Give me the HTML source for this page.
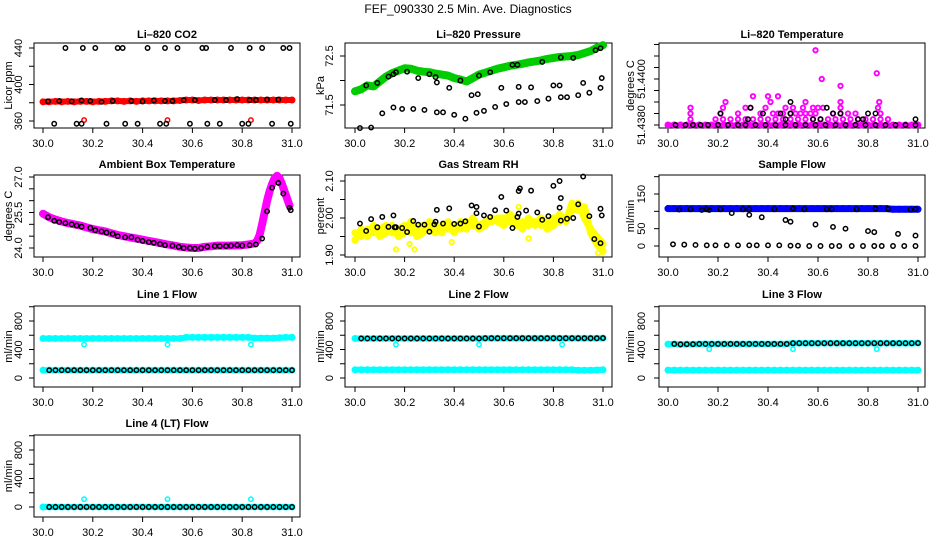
<!DOCTYPE html>
<html><head><meta charset="utf-8"><title>FEF_090330 Diagnostics</title>
<style>
html,body{margin:0;padding:0;background:#fff;}
svg{display:block;font-family:"Liberation Sans",sans-serif;}
</style></head>
<body>
<svg id="chart" width="936" height="540" viewBox="0 0 936 540" xmlns="http://www.w3.org/2000/svg">
<rect x="0" y="0" width="936" height="540" fill="#fff"/>
<text x="468" y="13" font-size="12" text-anchor="middle">FEF_090330  2.5 Min. Ave. Diagnostics</text>
</svg>
<script>
// ---------- shared time grid ----------
const T = [30.000,30.025,30.050,30.075,30.100,30.125,30.150,30.175,30.200,30.225,30.250,30.275,30.300,30.325,30.350,30.375,30.400,30.425,30.450,30.475,30.500,30.525,30.550,30.575,30.600,30.625,30.650,30.675,30.700,30.725,30.750,30.775,30.800,30.825,30.850,30.875,30.900,30.925,30.950,30.975,31.000];
const xTicks = [30.0,30.2,30.4,30.6,30.8,31.0];
const xTickLabels = ["30.0","30.2","30.4","30.6","30.8","31.0"];

// ---------- CO2 ----------
const co2Red = [381,381,381.5,381,381.5,381,381.5,381.5,381,381.5,381.5,382,382,381.5,382,381.5,382,382,382,382,382,382,382.5,383,383,382.5,383,383,383,383,383,383,383,383,383,383,383,383,383,383,383];
const co2RedOutX = [30.165,30.5,30.835];
const co2RedOutY = [361,361,361];
const co2TopX = [30.09,30.16,30.21,30.30,30.32,30.42,30.49,30.54,30.64,30.655,30.755,30.83,30.88,30.965,30.99];
const co2TopY = [440,440,440,440,440,440,440,440,440,440,440,440,440,440,440];
const co2BotX = [30.045,30.135,30.155,30.255,30.33,30.38,30.47,30.495,30.59,30.66,30.71,30.80,30.825,30.92,30.995];
const co2BotY = [357,357,357,357,357,357,357,357,357,357,357,357,357,357,357];
const co2MidX = [30.02,30.065,30.115,30.155,30.19,30.235,30.28,30.355,30.40,30.445,30.49,30.52,30.565,30.61,30.69,30.735,30.78,30.83,30.855,30.90,30.945];
const co2MidY = [381.5,382,381.5,382.5,382,381,382,382,381.5,382.5,382,382,383,383,383,383,384,383,383,383.5,383.5];

// ---------- Pressure ----------
const presGreen = [71.78,71.82,71.9,71.88,71.98,72.08,72.15,72.2,72.25,72.24,72.2,72.18,72.17,72.14,72.12,72.1,72.05,72.02,71.98,72.05,72.12,72.16,72.2,72.24,72.27,72.3,72.32,72.34,72.37,72.39,72.41,72.44,72.46,72.48,72.49,72.5,72.52,72.56,72.6,72.67,72.72];
const presBlkX = [30.045,30.09,30.135,30.155,30.165,30.21,30.255,30.30,30.325,30.425,30.50,30.545,30.635,30.655,30.755,30.83,30.88,30.97,30.99,
  30.02,30.065,30.11,30.155,30.19,30.235,30.28,30.33,30.355,30.40,30.445,30.49,30.52,30.565,30.61,30.66,30.685,30.735,30.78,30.83,30.855,30.90,30.945,30.99,
  30.33,30.38,30.47,30.495,30.59,30.66,30.71,30.80,30.825,30.92,30.995];
const presBlkY = [71.9,71.95,72.08,72.13,72.17,72.18,72.05,72.13,72.07,72.0,72.1,72.17,72.32,72.32,72.38,72.47,72.46,72.62,72.66,
  71.03,71.04,71.33,71.45,71.42,71.42,71.4,71.35,71.35,71.3,71.22,71.34,71.38,71.46,71.52,71.56,71.56,71.58,71.63,71.66,71.66,71.7,71.75,71.85,
  71.96,71.85,71.7,71.72,71.85,71.87,71.86,71.9,71.9,71.95,72.05];

// ---------- Li-820 Temperature (degrees C) ----------
const tempTicks = [51.4380,51.4385,51.4390,51.4395,51.4400,51.4405,51.4410,51.4415];
const tempTickLabels = ["51.4380","","","","51.4400","","",""];
const tempMagX = [30.09,30.19,30.22,30.25,30.28,30.31,30.34,30.37,30.40,30.43,30.46,30.49,30.52,30.55,30.58,30.61,30.64,30.67,30.70,30.73,30.76,30.79,30.82,30.85,30.88,
  30.09,30.21,30.28,30.37,30.42,30.44,30.46,30.49,30.51,30.53,30.55,30.57,30.59,30.66,30.69,30.72,30.75,30.85,
  30.09,30.22,30.31,30.33,30.39,30.47,30.50,30.54,30.58,30.60,30.62,30.69,30.84,
  30.23,30.41,30.55,30.69,30.845,30.34,30.40,30.44,30.615,30.835,30.69,30.59];
const tempMagY = [51.43825,51.43825,51.43825,51.43825,51.43825,51.43825,51.43825,51.43825,51.43825,51.43825,51.43825,51.43825,51.43825,51.43825,51.43825,51.43825,51.43825,51.43825,51.43825,51.43825,51.43825,51.43825,51.43825,51.43825,51.43825,
  51.4385,51.4385,51.4385,51.4385,51.4385,51.4385,51.4385,51.4385,51.4385,51.4385,51.4385,51.4385,51.4385,51.4385,51.4385,51.4385,51.4385,51.4385,
  51.43875,51.43875,51.43875,51.43875,51.43875,51.43875,51.43875,51.43875,51.43875,51.43875,51.43875,51.43875,51.43875,
  51.4390,51.4390,51.4390,51.4390,51.4390,51.43925,51.43925,51.43925,51.4400,51.44025,51.4397,51.44125];
const tempBlkX = [30.03,30.07,30.10,30.13,30.16,30.20,30.24,30.28,30.31,30.35,30.39,30.43,30.47,30.51,30.55,30.59,30.63,30.67,30.71,30.75,30.79,30.83,30.87,30.91,30.95,30.99,
  30.32,30.47,30.58,30.61,30.76,30.78,30.99,30.21,30.38,30.45,30.49,30.66,30.69,30.80,30.83,30.33,30.635,30.49];
const tempBlkY = [51.438,51.438,51.438,51.438,51.438,51.438,51.438,51.438,51.438,51.438,51.438,51.438,51.438,51.438,51.438,51.438,51.438,51.438,51.438,51.438,51.438,51.438,51.438,51.438,51.438,51.438,
  51.43825,51.43825,51.43825,51.43825,51.43825,51.43825,51.43825,51.4385,51.4385,51.4385,51.4385,51.4385,51.4385,51.4385,51.4385,51.43875,51.43875,51.4390];

// ---------- Ambient Box Temperature ----------
const ambX = [30.0,30.025,30.05,30.075,30.1,30.125,30.15,30.175,30.2,30.225,30.25,30.275,30.3,30.325,30.35,30.375,30.4,30.425,30.45,30.475,30.5,30.525,30.55,30.575,30.6,30.625,30.65,30.675,30.7,30.725,30.75,30.775,30.8,30.825,30.85,30.86,30.87,30.88,30.89,30.9,30.91,30.92,30.93,30.94,30.95,30.96,30.97,30.98,30.99];
const ambY = [25.45,25.3,25.2,25.12,25.05,25.0,24.95,24.87,24.8,24.75,24.7,24.62,24.55,24.5,24.45,24.4,24.35,24.3,24.25,24.2,24.15,24.1,24.05,24.02,24.0,24.0,24.05,24.07,24.1,24.1,24.1,24.11,24.12,24.15,24.2,24.3,24.55,25.0,25.5,26.0,26.4,26.7,26.95,27.05,26.95,26.7,26.4,26.1,25.8];
const ambBlkX = [30.02,30.045,30.065,30.09,30.115,30.135,30.155,30.19,30.21,30.235,30.255,30.28,30.30,30.33,30.355,30.38,30.40,30.425,30.445,30.47,30.49,30.52,30.545,30.565,30.59,30.61,30.635,30.66,30.69,30.71,30.735,30.755,30.78,30.80,30.83,30.855,30.88,30.90,30.92,30.945,30.965,30.99,30.995];
const ambBlkY = [25.3,25.15,25.1,25.05,25.0,24.95,24.9,24.85,24.75,24.7,24.65,24.6,24.5,24.45,24.45,24.35,24.3,24.25,24.22,24.17,24.12,24.1,24.05,24.0,24.0,23.97,24.0,24.05,24.08,24.08,24.08,24.1,24.12,24.1,24.12,24.15,24.4,25.55,26.55,26.75,26.3,25.7,25.6];

// ---------- Gas Stream RH ----------
const rhY1 = [1.96,1.95,1.97,1.96,1.97,1.98,1.96,1.97,1.98,1.96,1.97,1.98,1.97,1.96,1.98,1.97,1.98,1.97,1.99,1.98,1.98,1.99,1.99,2.0,2.0,1.99,1.98,1.99,1.98,1.99,1.98,1.99,2.0,1.99,2.0,2.02,2.04,2.0,1.97,1.95,1.93];
const rhY2 = [1.94,1.97,1.95,1.98,1.95,1.96,1.98,1.95,1.96,1.99,1.95,1.96,1.99,1.98,1.96,1.99,1.96,1.99,1.97,2.0,1.97,1.98,2.0,1.99,1.98,2.01,1.99,1.97,2.0,1.98,2.0,1.97,1.98,2.01,1.99,2.04,2.02,2.03,1.96,1.93,1.91];
const rhYelOutX = [30.165,30.22,30.24,30.98,30.66,30.70,30.39];
const rhYelOutY = [1.915,1.93,1.915,1.905,2.03,1.945,1.935];
const rhBlkX = [30.02,30.045,30.065,30.09,30.11,30.135,30.155,30.16,30.165,30.19,30.21,30.235,30.255,30.28,30.30,30.32,30.325,30.33,30.355,30.38,30.40,30.425,30.445,30.47,30.49,30.49,30.50,30.52,30.545,30.565,30.59,30.61,30.635,30.655,30.66,30.66,30.665,30.69,30.71,30.735,30.755,30.78,30.80,30.825,30.825,30.83,30.83,30.855,30.88,30.90,30.92,30.945,30.965,30.99,30.99,30.995];
const rhBlkY = [1.985,1.965,1.997,1.975,2.003,1.976,2.007,1.975,1.975,1.973,1.962,1.992,1.982,1.982,1.963,1.983,1.99,2.022,1.985,2.026,1.984,1.985,1.991,2.034,2.03,2.013,1.977,2.007,2.003,2.021,2.057,2.02,1.973,2.003,2.012,2.073,2.08,2.02,2.074,2.015,1.995,2.005,2.087,2.1,2.028,2.054,1.993,1.998,2.0,2.037,2.112,2.005,1.943,1.932,2.025,2.007];

// ---------- Sample Flow ----------
const sfBlue = [108,108,108,108,108,108,108,108,108,108,108,108,108,108,108,108,108,108,108,108,108,108,108,108,108,108,108,108,108,108,108,108,108,108,108,108,106,106,106,106,106];
const sfBlkX = [30.045,30.09,30.135,30.155,30.165,30.21,30.30,30.325,30.425,30.50,30.545,30.635,30.655,30.755,30.83,30.88,30.97,30.99,
  30.255,30.325,30.375,30.47,30.49,30.59,30.66,30.71,30.80,30.825,30.92,30.99,
  30.02,30.065,30.11,30.155,30.19,30.235,30.28,30.325,30.355,30.40,30.445,30.49,30.52,30.565,30.61,30.655,30.685,30.735,30.78,30.825,30.855,30.90,30.945,30.99];
const sfBlkY = [105,106,104,106,104,106,106,106,106,108,106,106,106,106,108,107,105,106,
  95,90,83,75,70,62,55,50,43,40,35,30,
  5,4,3,2,2,2,2,2,2,2,2,1,1,0,0,0,0,0,0,0,0,0,0,0];

// ---------- Line flows ----------
const l1Cyan = [555,555,555,555,555,555,555,555,555,555,555,555,555,555,555,555,555,555,555,555,555,555,555,570,570,570,570,570,570,570,570,570,570,570,560,560,560,560,565,570,570];
const l1Low  = [110,110,110,110,110,110,110,110,110,110,110,110,110,110,110,110,110,110,110,110,110,110,110,110,110,110,110,110,110,110,110,110,110,110,110,110,110,110,110,110,110];
const l2Black = [555,555,555,555,555,555,555,555,555,555,555,555,555,555,555,555,555,555,555,555,555,558,558,558,558,558,558,558,558,558,558,558,558,558,558,558,558,558,558,558,560];
const l2Low  = [115,115,115,115,115,115,115,115,115,115,115,115,115,115,115,115,115,115,115,115,115,115,115,115,115,115,115,115,115,115,115,115,115,115,115,115,108,108,108,112,115];
const l3Black = [475,478,472,475,475,478,478,478,478,478,478,478,478,478,478,478,478,478,478,478,488,488,488,488,488,488,488,488,488,488,488,488,488,488,488,488,488,488,488,488,490];
const l3Low  = [110,110,110,110,110,110,110,110,110,110,110,110,110,110,110,110,110,110,110,110,110,110,110,110,110,110,110,110,110,110,110,110,110,110,110,110,110,110,110,110,110];
const l4Zero = [0,0,0,0,0,0,0,0,0,0,0,0,0,0,0,0,0,0,0,0,0,0,0,0,0,0,0,0,0,0,0,0,0,0,0,0,0,0,0,0,0];
const flowOutX = [30.165,30.5,30.835];
const l1OutY = [470,470,470];
const l2OutY = [470,470,470];
const l3OutY = [405,405,405];
const l4OutY = [110,110,110];
const flowTicks = [0,200,400,600,800,1000];
const flowTickLabels = ["0","","400","","800",""];

// ---------- drawing ----------
const NS = "http://www.w3.org/2000/svg";
const svg = document.getElementById("chart");
function mk(tag, attrs, parent){ const e=document.createElementNS(NS,tag); for(const k in attrs) e.setAttribute(k,attrs[k]); (parent||svg).appendChild(e); return e; }

const cols = [{l:34,r:300,x0:43,x1:292,lab:22,ttl:8},{l:345,r:612,x0:355,x1:603,lab:333,ttl:320},{l:659,r:925,x0:668,x1:918,lab:645,ttl:630}];
const rows = [{t:43,b:128,ttl:38},{t:175,b:257,ttl:168},{t:306,b:387,ttl:298},{t:435,b:517,ttl:427}];

function panel(name, title, ci, ri, yLabel, yv0, yp0, yv1, yp1, yTicks, yTickLabels){
  const c=cols[ci], r=rows[ri];
  const g = mk("g",{});
  
  
  const sx = v => c.x0 + (v-30)/(1)*(c.x1-c.x0);
  const sy = v => yp0 + (v-yv0)/(yv1-yv0)*(yp1-yp0);
  const tt = mk("text",{x:(c.l+c.r)/2,y:r.ttl,"font-size":11,"font-weight":"bold","text-anchor":"middle"},g);
  tt.textContent = title;
  
  
  const box = mk("rect",{x:c.l,y:r.t,width:c.r-c.l,height:r.b-r.t,fill:"none",stroke:"#000","stroke-width":1},g);
  
  
  const xa = mk("g",{},g);
  
  
  xTicks.forEach((v,i)=>{
    mk("line",{x1:sx(v),x2:sx(v),y1:r.b,y2:r.b+5,stroke:"#000"},xa);
    const t=mk("text",{x:sx(v),y:r.b+19,"font-size":11,"text-anchor":"middle"},xa);
    t.textContent=xTickLabels[i];
    
    
  });
  const ya = mk("g",{},g);
  
  
  yTicks.forEach((v,i)=>{
    const y=sy(v);
    mk("line",{x1:c.l-5,x2:c.l,y1:y,y2:y,stroke:"#000"},ya);
    if(yTickLabels[i]){
      const t=mk("text",{x:c.lab,y:y,"font-size":11,"text-anchor":"middle",transform:`rotate(-90 ${c.lab} ${y})`},ya);
      t.textContent=yTickLabels[i];
      
      
    }
  });
  const ym=(r.t+r.b)/2;
  const yl=mk("text",{x:c.ttl,y:ym,"font-size":11,"text-anchor":"middle",transform:`rotate(-90 ${c.ttl} ${ym})`,dy:"4"},g);
  yl.textContent=yLabel;
  
  
  const clip = mk("g",{},g);
  return {g:clip,sx,sy,name};
}

function pts(p, xs, ys, color, rad, sw, label){
  const g = mk("g",{},p.g);
  
  
  for(let i=0;i<xs.length;i++){
    if(ys[i]===null||ys[i]===undefined) continue;
    const c = mk("circle",{cx:p.sx(xs[i]),cy:p.sy(ys[i]),r:rad,fill:"none",stroke:color,"stroke-width":sw},g);
    
    
  }
}
// dense band: thick connecting stroke behind points
function band(p, xs, ys, color, w, label){
  const d = xs.map((x,i)=>(i?'L':'M')+p.sx(x).toFixed(1)+' '+p.sy(ys[i]).toFixed(1)).join(' ');
  const path = mk("path",{d:d,fill:"none",stroke:color,"stroke-width":w,"stroke-linecap":"round","stroke-linejoin":"round"},p.g);
  
  
  pts(p,xs,ys,color,2.2,2.6,label);
}
const BR=2.2, BW=1.5;
const CY="#00ffff", MG="#ff00ff", YL="#ffff00";

// Row 1
let p = panel("li820-co2","Li\u2013820 CO2",0,0,"Licor ppm",440,48,360,121,[360,380,400,420,440],["360","","400","","440"]);
band(p,T,co2Red,"#ff0000",6,"red-co2");
pts(p,co2RedOutX,co2RedOutY,"#ff0000",BR,BW,"red-outlier");
pts(p,co2TopX,co2TopY,"#000",BR,BW,"black-top");
pts(p,co2BotX,co2BotY,"#000",BR,BW,"black-bottom");
pts(p,co2MidX,co2MidY,"#000",BR,BW,"black-mid");

p = panel("li820-pressure","Li\u2013820 Pressure",1,0,"kPa",72.5,56,71.5,105,[71.5,72.0,72.5],["71.5","","72.5"]);
band(p,T,presGreen,"#00cc00",8,"green-pressure");
pts(p,presBlkX,presBlkY,"#000",BR,BW,"black-pressure");

p = panel("li820-temperature","Li\u2013820 Temperature",2,0,"degrees C",51.438,125,51.44,79,tempTicks,tempTickLabels);
band(p,T,T.map(()=>51.438),MG,5,"magenta-base");
pts(p,tempMagX,tempMagY,MG,BR,BW+0.4,"magenta-temp");
pts(p,tempBlkX,tempBlkY,"#000",BR,BW,"black-temp");

// Row 2
p = panel("ambient-box-temperature","Ambient Box Temperature",0,1,"degrees C",27,177,24,248,[24,24.5,25,25.5,26,26.5,27],["24.0","","","25.5","","","27.0"]);
band(p,ambX,ambY,MG,8,"magenta-ambient");
pts(p,ambBlkX,ambBlkY,"#000",BR,BW,"black-ambient");

p = panel("gas-stream-rh","Gas Stream RH",1,1,"percent",2.10,181,1.90,255,[1.90,1.95,2.00,2.05,2.10],["1.90","","2.00","","2.10"]);
band(p,T,rhY1,YL,7,"yellow-rh-a");
band(p,T,rhY2,YL,7,"yellow-rh-b");
pts(p,rhYelOutX,rhYelOutY,YL,BR,BW+0.4,"yellow-outlier");
pts(p,rhBlkX,rhBlkY,"#000",BR,BW,"black-rh");

p = panel("sample-flow","Sample Flow",2,1,"ml/min",150,194,0,246,[0,50,100,150,200],["0","50","","150",""]);
band(p,T,sfBlue,"#0000ff",7,"blue-flow");
pts(p,sfBlkX,sfBlkY,"#000",BR,BW,"black-flow");

// Row 3
p = panel("line-1-flow","Line 1 Flow",0,2,"ml/min",0,378,800,321,flowTicks,flowTickLabels);
band(p,T,l1Cyan,CY,6,"cyan-high");
band(p,T,l1Low,CY,6,"cyan-low");
pts(p,T.slice(1),l1Low.slice(1),"#000",BR,BW,"black-low");
pts(p,flowOutX,l1OutY,CY,BR,BW,"cyan-outlier");

p = panel("line-2-flow","Line 2 Flow",1,2,"ml/min",0,378,800,321,flowTicks,flowTickLabels);
band(p,T,l2Black,CY,6,"cyan-high");
band(p,T,l2Low,CY,6,"cyan-low");
pts(p,T.slice(1),l2Black.slice(1),"#000",BR,BW,"black-high");
pts(p,flowOutX,l2OutY,CY,BR,BW,"cyan-outlier");

p = panel("line-3-flow","Line 3 Flow",2,2,"ml/min",0,378,800,321,flowTicks,flowTickLabels);
band(p,T,l3Black,CY,6,"cyan-high");
band(p,T,l3Low,CY,6,"cyan-low");
pts(p,T.slice(1),l3Black.slice(1),"#000",BR,BW,"black-high");
pts(p,flowOutX,l3OutY,CY,BR,BW,"cyan-outlier");

// Row 4
p = panel("line-4-lt-flow","Line 4 (LT) Flow",0,3,"ml/min",0,507,800,450,flowTicks,flowTickLabels);
band(p,T,l4Zero,CY,6,"cyan-zero");
pts(p,T.slice(1),l4Zero.slice(1),"#000",BR,BW,"black-zero");
pts(p,flowOutX,l4OutY,CY,BR,BW,"cyan-outlier");
</script>
</body></html>
